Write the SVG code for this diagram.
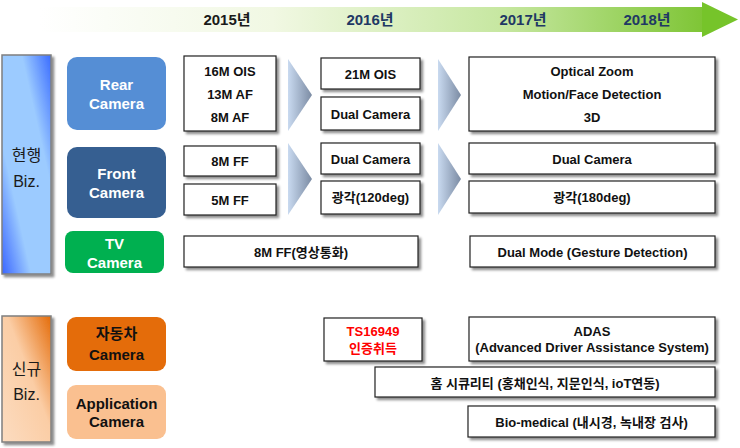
<svg xmlns="http://www.w3.org/2000/svg" width="740" height="448" viewBox="0 0 740 448">
<defs>
<linearGradient id="gTime" x1="0" y1="0" x2="1" y2="0">
<stop offset="0" stop-color="#ffffff"/>
<stop offset="0.35" stop-color="#f1f8e3"/>
<stop offset="0.7" stop-color="#c6e7a0"/>
<stop offset="1" stop-color="#7ec535"/>
</linearGradient>
<linearGradient id="gBlue" x1="1" y1="0" x2="0" y2="1">
<stop offset="0" stop-color="#3a6cff"/>
<stop offset="0.3" stop-color="#9ccbff"/>
<stop offset="0.7" stop-color="#9ccbff"/>
<stop offset="1" stop-color="#3a66ff"/>
</linearGradient>
<linearGradient id="gOrange" x1="1" y1="0" x2="0" y2="1">
<stop offset="0" stop-color="#e46c0a"/>
<stop offset="0.45" stop-color="#fbcda5"/>
<stop offset="1" stop-color="#fcdcc0"/>
</linearGradient>
<linearGradient id="gChev" x1="0" y1="0" x2="1" y2="0">
<stop offset="0" stop-color="#c9daf0"/>
<stop offset="1" stop-color="#7b8ba3"/>
</linearGradient>
<filter id="sh" x="-10%" y="-10%" width="130%" height="130%">
<feDropShadow dx="2.5" dy="2.5" stdDeviation="1" flood-color="#000" flood-opacity="0.45"/>
</filter>
<style>
text{font-family:'Liberation Sans','Noto Sans CJK KR',sans-serif;text-anchor:middle;}
.box{fill:#fff;stroke:#222;stroke-width:1.2;filter:url(#sh);}
.bt{font-size:13px;font-weight:bold;fill:#111;}
.cat{font-size:15px;font-weight:bold;}
.w{fill:#fff;}
.k{fill:#111;}
.side{stroke:#7f7f7f;stroke-width:1.5;filter:url(#sh);}
.st{font-size:16px;fill:#1a1a1a;}
.yr{font-size:15px;font-weight:bold;fill:#1f3864;}
.chev{fill:url(#gChev);}
</style>
</defs>

<g id="timeline">
<rect x="40" y="7" width="664" height="25" fill="url(#gTime)"/>
<polygon points="702,2 738,19.5 702,37" fill="#76c42a"/>
<text class="yr" x="227" y="25" style="fill:#1a1a1a">2015년</text>
<text class="yr" x="370" y="25">2016년</text>
<text class="yr" x="523" y="25">2017년</text>
<text class="yr" x="647" y="25">2018년</text>
</g>

<g id="current-biz">
<rect class="side" x="2" y="55" width="49" height="219" fill="url(#gBlue)"/>
<text class="st" x="26.5" y="161">현행</text>
<text class="st" x="26.5" y="187">Biz.</text>
</g>
<g id="new-biz">
<rect class="side" x="2" y="316" width="49" height="126" fill="url(#gOrange)"/>
<text class="st" x="26.5" y="375">신규</text>
<text class="st" x="26.5" y="400">Biz.</text>
</g>

<g id="rear-camera">
<rect x="67" y="57" width="99" height="73" rx="10" fill="#558ed5"/>
<text class="cat w" x="116.5" y="89.5">Rear</text>
<text class="cat w" x="116.5" y="108.5">Camera</text>
</g>
<g id="front-camera">
<rect x="67" y="147" width="99" height="71" rx="10" fill="#365f91"/>
<text class="cat w" x="116.5" y="178.5">Front</text>
<text class="cat w" x="116.5" y="197.5">Camera</text>
</g>
<g id="tv-camera">
<rect x="65" y="231" width="99" height="42" rx="8" fill="#00b050"/>
<text class="cat w" x="114.5" y="248.5">TV</text>
<text class="cat w" x="114.5" y="267.5">Camera</text>
</g>
<g id="car-camera">
<rect x="67" y="317" width="99" height="54" rx="9" fill="#e46c0a"/>
<text class="cat k" x="116.5" y="339">자동차</text>
<text class="cat k" x="116.5" y="359.5">Camera</text>
</g>
<g id="app-camera">
<rect x="67" y="385" width="99" height="54" rx="9" fill="#fac090"/>
<text class="cat k" x="116.5" y="408.5">Application</text>
<text class="cat k" x="116.5" y="426.5">Camera</text>
</g>

<g id="rear-2015">
<rect class="box" x="184" y="56" width="92" height="75"/>
<text class="bt" x="230" y="76">16M OIS</text>
<text class="bt" x="230" y="99">13M AF</text>
<text class="bt" x="230" y="122">8M AF</text>
</g>
<g id="front-2015-8m">
<rect class="box" x="184" y="146" width="92" height="30"/>
<text class="bt" x="230" y="166">8M FF</text>
</g>
<g id="front-2015-5m">
<rect class="box" x="184" y="184" width="92" height="31"/>
<text class="bt" x="230" y="204.5">5M FF</text>
</g>
<g id="tv-2015">
<rect class="box" x="184" y="236" width="234" height="31"/>
<text class="bt" x="301" y="257">8M FF(영상통화)</text>
</g>

<g id="rear-2016-ois">
<rect class="box" x="321" y="58" width="99" height="31"/>
<text class="bt" x="370.5" y="78.5">21M OIS</text>
</g>
<g id="rear-2016-dual">
<rect class="box" x="321" y="97" width="99" height="33"/>
<text class="bt" x="370.5" y="118.5">Dual Camera</text>
</g>
<g id="front-2016-dual">
<rect class="box" x="321" y="143" width="99" height="31"/>
<text class="bt" x="370.5" y="163.5">Dual Camera</text>
</g>
<g id="front-2016-wide">
<rect class="box" x="321" y="181" width="99" height="33"/>
<text class="bt" x="370.5" y="202">광각(120deg)</text>
</g>
<g id="car-2016">
<rect class="box" x="324" y="318" width="98" height="43"/>
<text class="bt" x="373" y="335.5" style="fill:#ff0000">TS16949</text>
<text class="bt" x="373" y="353" style="fill:#ff0000">인증취득</text>
</g>

<g id="rear-2017">
<rect class="box" x="469" y="57" width="246" height="74"/>
<text class="bt" x="592" y="76">Optical Zoom</text>
<text class="bt" x="592" y="98.5">Motion/Face Detection</text>
<text class="bt" x="592" y="122">3D</text>
</g>
<g id="front-2017-dual">
<rect class="box" x="469" y="143" width="246" height="31"/>
<text class="bt" x="592" y="163.5">Dual Camera</text>
</g>
<g id="front-2017-wide">
<rect class="box" x="469" y="181" width="246" height="32"/>
<text class="bt" x="592" y="201.5">광각(180deg)</text>
</g>
<g id="tv-2017">
<rect class="box" x="470" y="236" width="245" height="31"/>
<text class="bt" x="592.5" y="256.5">Dual Mode (Gesture Detection)</text>
</g>
<g id="car-2017">
<rect class="box" x="469" y="317" width="246" height="44"/>
<text class="bt" x="592" y="336">ADAS</text>
<text class="bt" x="592" y="351.5">(Advanced Driver Assistance System)</text>
</g>
<g id="app-home">
<rect class="box" x="375" y="367" width="340" height="30"/>
<text class="bt" x="545" y="387.5">홈 시큐리티 (홍채인식, 지문인식, ioT연동)</text>
</g>
<g id="app-bio">
<rect class="box" x="468" y="406" width="247" height="31"/>
<text class="bt" x="591.5" y="427">Bio-medical (내시경, 녹내장 검사)</text>
</g>

<g id="connectors">
<polygon class="chev" points="288,59 312,95 288,131"/>
<polygon class="chev" points="288,143 312,179 288,215"/>
<polygon class="chev" points="438,59 461,95 438,131"/>
<polygon class="chev" points="438,143 461,179 438,215"/>
</g>
</svg>
